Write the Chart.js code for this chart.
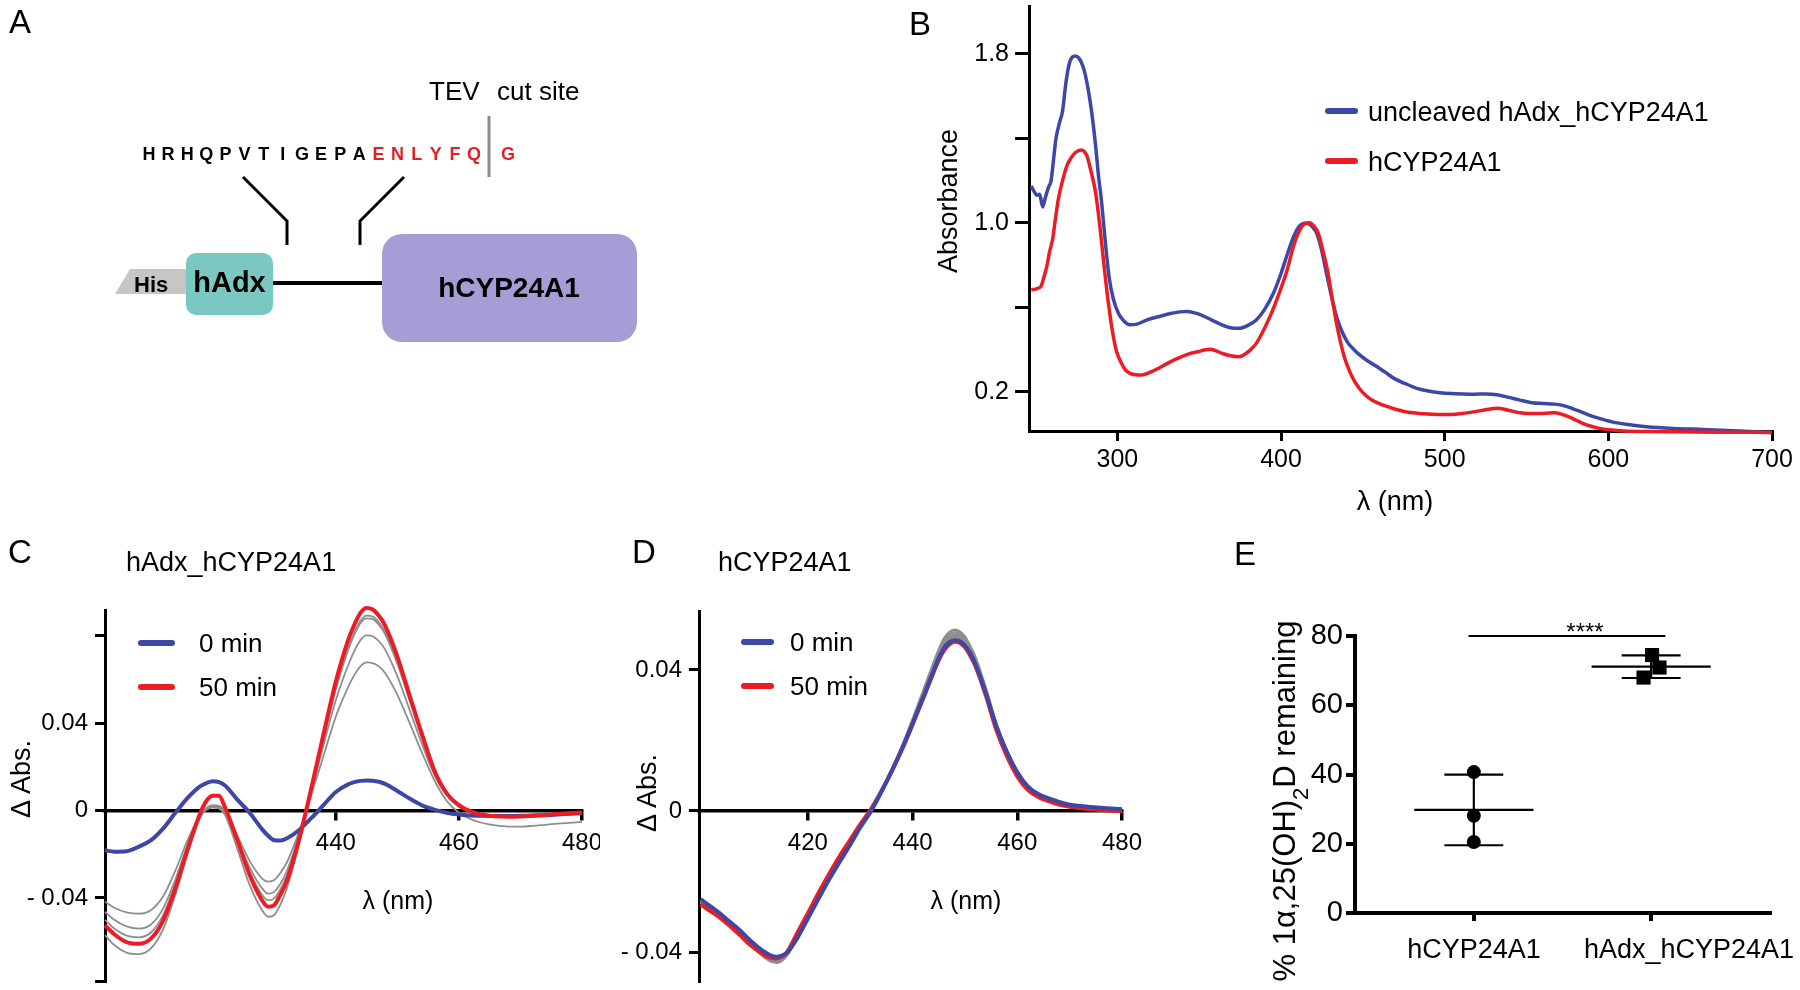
<!DOCTYPE html>
<html>
<head>
<meta charset="utf-8">
<script src="https://cdn.jsdelivr.net/npm/chart.js@4.4.1/dist/chart.umd.min.js"></script>
<style>
html,body{margin:0;padding:0;background:#fff;width:1800px;height:990px;overflow:hidden;}
canvas{position:absolute;}
#overlay{position:absolute;left:0;top:0;pointer-events:none;font-family:'Liberation Sans',Arial,sans-serif;}
</style>
</head>
<body>
<canvas id="cB" width="900" height="520" style="left:900px;top:0px"></canvas>
<canvas id="cC" width="600" height="470" style="left:0px;top:520px"></canvas>
<canvas id="cD" width="560" height="470" style="left:600px;top:520px"></canvas>
<canvas id="cE" width="600" height="470" style="left:1200px;top:520px"></canvas>
<svg id="overlay" width="1800" height="990" xmlns="http://www.w3.org/2000/svg">
  <!-- panel letters -->
  <g font-size="33" fill="#000">
    <text x="9" y="33">A</text>
    <text x="909" y="35">B</text>
    <text x="8" y="563">C</text>
    <text x="632" y="563">D</text>
    <text x="1234" y="565">E</text>
  </g>
  <!-- panel A diagram -->
  <g id="panelA">
    <text x="429" y="100" font-size="26">TEV</text>
    <text x="497" y="100" font-size="26">cut site</text>
    <line x1="489" y1="116" x2="489" y2="177" stroke="#8a8a8a" stroke-width="3"/>
    <g id="seq" font-size="18" font-weight="bold" text-anchor="middle"></g>
    <polyline points="243,177 287,221 287,245" fill="none" stroke="#000" stroke-width="3"/>
    <polyline points="404,177 360,221 360,245" fill="none" stroke="#000" stroke-width="3"/>
    <polygon points="115,294 130,269 190,269 190,294" fill="#c6c6c6"/>
    <text x="134" y="292" font-size="22" font-weight="bold">His</text>
    <line x1="273" y1="283" x2="384" y2="283" stroke="#000" stroke-width="4"/>
    <rect x="186" y="253" width="87" height="62" rx="10" fill="#7bc8c3"/>
    <text x="229.5" y="292" font-size="29" font-weight="bold" text-anchor="middle">hAdx</text>
    <rect x="382" y="234" width="255" height="108" rx="20" fill="#a69dd6"/>
    <text x="509" y="297" font-size="28" font-weight="bold" text-anchor="middle">hCYP24A1</text>
  </g>
  <!-- panel B texts -->
  <g font-size="27">
    <line x1="1328" y1="111" x2="1355" y2="111" stroke="#3c47a6" stroke-width="6" stroke-linecap="round"/>
    <text x="1368" y="121">uncleaved hAdx_hCYP24A1</text>
    <line x1="1328" y1="161" x2="1355" y2="161" stroke="#ec1c24" stroke-width="6" stroke-linecap="round"/>
    <text x="1368" y="171">hCYP24A1</text>
    <text transform="translate(947,201) rotate(-90)" x="0" y="9.7" text-anchor="middle">Absorbance</text>
    <text x="1395" y="510" text-anchor="middle">λ (nm)</text>
  </g>
  <!-- panel C texts -->
  <g font-size="27">
    <text x="126" y="571">hAdx_hCYP24A1</text>
    <text transform="translate(20,779) rotate(-90)" x="0" y="9.7" text-anchor="middle">Δ Abs.</text>
    <text x="398" y="909" text-anchor="middle" font-size="25">λ (nm)</text>
    <line x1="141" y1="643" x2="172" y2="643" stroke="#3c47a6" stroke-width="6" stroke-linecap="round"/>
    <text x="199" y="652" font-size="26">0 min</text>
    <line x1="141" y1="687" x2="172" y2="687" stroke="#ec1c24" stroke-width="6" stroke-linecap="round"/>
    <text x="199" y="696" font-size="26">50 min</text>
  </g>
  <!-- panel D texts -->
  <g font-size="27">
    <text x="718" y="571">hCYP24A1</text>
    <text transform="translate(646,793) rotate(-90)" x="0" y="9.7" text-anchor="middle">Δ Abs.</text>
    <text x="966" y="909" text-anchor="middle" font-size="25">λ (nm)</text>
    <line x1="744" y1="642" x2="771" y2="642" stroke="#3c47a6" stroke-width="6" stroke-linecap="round"/>
    <text x="790" y="651" font-size="26">0 min</text>
    <line x1="744" y1="686" x2="771" y2="686" stroke="#ec1c24" stroke-width="6" stroke-linecap="round"/>
    <text x="790" y="695" font-size="26">50 min</text>
  </g>
  <!-- panel E texts -->
  <g font-size="31">
    <text transform="translate(1284,801) rotate(-90)" x="0" y="11" text-anchor="middle">% 1α,25(OH)<tspan baseline-shift="sub" font-size="22">2</tspan>D remaining</text>
    <text id="eSig" x="1585" y="640" text-anchor="middle" font-size="24"></text>
    <text id="eCat0" x="1474" y="958" text-anchor="middle" font-size="27"></text>
    <text id="eCat1" x="1689" y="958" text-anchor="middle" font-size="27"></text>
    <line x1="1347" y1="913" x2="1357" y2="913" stroke="#000" stroke-width="4"/>
  </g>
</svg>
<script>
// ---------------- DATA ----------------
// Panel B: absorbance spectra
const bBlueLambda = [247.4,249,251,252.5,254.4,256,258,259.5,261,262.5,264.5,266.5,268.5,270.5,272.5,274.4,276.5,279,281.5,284,286.5,288.5,290.2,292.5,295,297.5,300.7,304,307.7,312,318.2,325,332.3,338,342.8,348,353.3,358,363.8,369,374.3,380,384.9,390,395.4,400,404.1,408,411.2,414,416.4,419,421.7,424.5,426.9,430,433.9,437.5,441,444.5,448,453,458.5,464,469,476,483,490,497.1,504,511.1,518,525.1,532,539.1,546,553.2,560,567.2,572,577.7,583,588.2,595,602.2,612,623.3,640,658.3,680,700];
const bBlueAbs = [1.174,1.15,1.13,1.135,1.075,1.12,1.17,1.20,1.30,1.40,1.47,1.53,1.66,1.75,1.785,1.79,1.78,1.74,1.66,1.54,1.38,1.22,1.11,0.92,0.74,0.64,0.57,0.535,0.517,0.52,0.54,0.555,0.57,0.578,0.58,0.572,0.556,0.538,0.517,0.503,0.50,0.515,0.54,0.59,0.667,0.76,0.857,0.94,0.984,0.998,0.997,0.982,0.952,0.88,0.794,0.68,0.556,0.48,0.43,0.40,0.374,0.345,0.319,0.29,0.263,0.238,0.216,0.203,0.195,0.191,0.189,0.188,0.189,0.185,0.173,0.160,0.148,0.144,0.141,0.135,0.121,0.105,0.089,0.072,0.057,0.044,0.034,0.026,0.021,0.014,0.007];
const bRedLambda = [247.4,250,253.4,255,256.9,258.5,260.4,262,263.9,266.5,269.1,271.5,274.4,277.9,281.4,284,286.7,289.5,291.9,294.5,297.2,299.5,302.5,305,307.7,311,314.7,320,325.2,332,339.3,345,349.8,353,356.8,360,363.8,369,374.3,378,381.3,385,388.4,393.5,398.9,403.5,407.6,410.5,412.9,415.2,417.5,420,422.7,425.5,428.7,431.3,433.9,436.5,439.2,442,444.5,448,451.5,456,462,469,476,483,490,497,504.1,511,518.1,525,532.1,539,546.1,551,556.7,562,567.2,571.5,575.9,580,584.7,590,595.2,602,609.3,625,640.8,670,700];
const bRedAbs = [0.683,0.686,0.70,0.74,0.794,0.86,0.921,1.01,1.111,1.20,1.269,1.305,1.333,1.345,1.317,1.24,1.143,0.97,0.794,0.62,0.477,0.39,0.335,0.302,0.287,0.28,0.279,0.292,0.311,0.34,0.366,0.382,0.390,0.397,0.401,0.394,0.382,0.370,0.366,0.378,0.398,0.43,0.477,0.56,0.667,0.77,0.889,0.95,0.984,0.998,1.000,0.985,0.952,0.87,0.762,0.64,0.525,0.43,0.351,0.295,0.255,0.214,0.184,0.158,0.137,0.119,0.105,0.098,0.094,0.092,0.092,0.097,0.105,0.114,0.121,0.112,0.100,0.097,0.097,0.098,0.100,0.093,0.081,0.066,0.049,0.035,0.025,0.018,0.014,0.011,0.010,0.008,0.007];
const bXTicks = [300,400,500,600,700];
const bYTicks = [0.2,0.6,1.0,1.4,1.8];
const bYTickLabels = ['0.2','','1.0','','1.8'];

// Panel C: hAdx_hCYP24A1 difference spectra
const cLambda = [402.5,404,406,408,410,412,414,416,418,419,420,421,422,424,426,428,429,430,431,432,434,436,438,440,442,443,444,445,446,447,448,450,452,454,456,458,460,462,464,466,468,470,472,474,476,478,480];
const c0min = [-0.0182,-0.0188,-0.0186,-0.0165,-0.0135,-0.0080,-0.0008,0.0060,0.0112,0.0126,0.0134,0.0130,0.0115,0.0050,-0.0010,-0.0085,-0.0115,-0.0136,-0.0137,-0.0128,-0.0090,-0.0035,0.0025,0.0085,0.0120,0.0130,0.0136,0.0138,0.0137,0.0132,0.0122,0.0090,0.0055,0.0024,0.0004,-0.0010,-0.0018,-0.0022,-0.0024,-0.0025,-0.0025,-0.0024,-0.0023,-0.0021,-0.0018,-0.0015,-0.0012];
const c10min = [-0.0417,-0.0445,-0.0466,-0.0472,-0.0455,-0.0390,-0.0270,-0.0130,-0.0020,0.0005,0.0015,0.0012,-0.0010,-0.0115,-0.0230,-0.0310,-0.0325,-0.0318,-0.0285,-0.0240,-0.0100,0.0070,0.0250,0.0430,0.0565,0.0620,0.0660,0.0678,0.0675,0.0660,0.0630,0.0530,0.0400,0.0265,0.0140,0.0045,-0.0010,-0.0040,-0.0058,-0.0068,-0.0073,-0.0073,-0.0070,-0.0065,-0.0060,-0.0056,-0.0052];
const c20min = [-0.0463,-0.0500,-0.0530,-0.0540,-0.0520,-0.0445,-0.0310,-0.0150,-0.0020,0.0010,0.0020,0.0018,-0.0005,-0.0130,-0.0260,-0.0355,-0.0380,-0.0372,-0.0335,-0.0280,-0.0115,0.0085,0.0300,0.0505,0.0665,0.0730,0.0780,0.0802,0.0798,0.0775,0.0738,0.0615,0.0460,0.0305,0.0165,0.0070,0.0018,-0.0008,-0.0018,-0.0022,-0.0024,-0.0023,-0.0022,-0.0020,-0.0016,-0.0013,-0.0010];
const c30min = [-0.0500,-0.0540,-0.0572,-0.0580,-0.0557,-0.0475,-0.0330,-0.0160,-0.0020,0.0012,0.0025,0.0022,-0.0003,-0.0140,-0.0280,-0.0385,-0.0410,-0.0402,-0.0360,-0.0300,-0.0120,0.0095,0.0330,0.0555,0.0735,0.0805,0.0858,0.0880,0.0876,0.0850,0.0808,0.0672,0.0502,0.0332,0.0178,0.0075,0.0020,-0.0008,-0.0020,-0.0025,-0.0026,-0.0025,-0.0023,-0.0020,-0.0016,-0.0012,-0.0009];
const c40min = [-0.0570,-0.0615,-0.0650,-0.0657,-0.0630,-0.0540,-0.0380,-0.0190,-0.0030,0.0005,0.0015,0.0010,-0.0020,-0.0175,-0.0340,-0.0455,-0.0486,-0.0478,-0.0430,-0.0360,-0.0160,0.0075,0.0325,0.0560,0.0745,0.0815,0.0868,0.0892,0.0888,0.0862,0.0820,0.0685,0.0515,0.0342,0.0185,0.0080,0.0022,-0.0006,-0.0018,-0.0023,-0.0025,-0.0024,-0.0022,-0.0019,-0.0015,-0.0012,-0.0009];
const c50min = [-0.0526,-0.0566,-0.0602,-0.0610,-0.0585,-0.0500,-0.0350,-0.0170,-0.0010,0.0045,0.0068,0.0068,0.0015,-0.0135,-0.0295,-0.0410,-0.0440,-0.0432,-0.0385,-0.0325,-0.0135,0.0100,0.0350,0.0590,0.0780,0.0850,0.0905,0.0927,0.0920,0.0892,0.0848,0.0705,0.0526,0.0350,0.0185,0.0080,0.0025,-0.0005,-0.0020,-0.0026,-0.0028,-0.0027,-0.0024,-0.0020,-0.0016,-0.0012,-0.0009];
const cXTicks = [440,460,480];
const cYTicks = [-0.078,-0.04,0,0.04,0.08];
const cYTickLabels = ['','- 0.04','0','0.04',''];

// Panel D: hCYP24A1 difference spectra
const dLambda = [399.5,401,403,405,407,409,411,412,413,414,415,416,418,420,422,424,426,428,430,432,434,436,438,440,442,444,445,446,447,448,449,450,451,452,454,456,458,460,462,464,466,468,470,472,474,476,478,480];
const d0min = [-0.0250,-0.0266,-0.0288,-0.0313,-0.0338,-0.0367,-0.0392,-0.0402,-0.0410,-0.0413,-0.0410,-0.0402,-0.0360,-0.0305,-0.0250,-0.0196,-0.0146,-0.0098,-0.0047,-0.0002,0.0053,0.0112,0.0177,0.0248,0.0322,0.0397,0.0434,0.0462,0.0478,0.0485,0.0481,0.0469,0.0447,0.0417,0.0334,0.0240,0.0168,0.0110,0.0070,0.0048,0.0036,0.0026,0.0018,0.0014,0.0011,0.0009,0.0007,0.0005];
const d10min = [-0.0255,-0.0272,-0.0294,-0.0320,-0.0347,-0.0378,-0.0406,-0.0418,-0.0427,-0.0430,-0.0425,-0.0410,-0.0358,-0.0300,-0.0243,-0.0188,-0.0138,-0.0090,-0.0042,0.0002,0.0056,0.0118,0.0185,0.0260,0.0340,0.0420,0.0458,0.0489,0.0507,0.0514,0.0509,0.0494,0.0468,0.0436,0.0348,0.0248,0.0172,0.0112,0.0071,0.0048,0.0035,0.0025,0.0017,0.0012,0.0009,0.0007,0.0005,0.0003];
const d20min = [-0.0256,-0.0272,-0.0293,-0.0318,-0.0345,-0.0376,-0.0403,-0.0415,-0.0424,-0.0427,-0.0422,-0.0408,-0.0356,-0.0299,-0.0242,-0.0187,-0.0137,-0.0089,-0.0042,0.0002,0.0055,0.0116,0.0182,0.0256,0.0335,0.0414,0.0451,0.0482,0.0500,0.0507,0.0502,0.0488,0.0462,0.0431,0.0344,0.0246,0.0170,0.0111,0.0070,0.0047,0.0034,0.0024,0.0016,0.0011,0.0008,0.0006,0.0004,0.0002];
const d30min = [-0.0258,-0.0274,-0.0295,-0.0319,-0.0345,-0.0375,-0.0401,-0.0413,-0.0421,-0.0424,-0.0419,-0.0405,-0.0354,-0.0298,-0.0241,-0.0186,-0.0136,-0.0088,-0.0041,0.0002,0.0054,0.0114,0.0179,0.0252,0.0330,0.0408,0.0445,0.0475,0.0493,0.0500,0.0495,0.0481,0.0456,0.0425,0.0340,0.0244,0.0169,0.0110,0.0070,0.0047,0.0034,0.0024,0.0016,0.0011,0.0008,0.0006,0.0004,0.0002];
const d40min = [-0.0260,-0.0276,-0.0297,-0.0321,-0.0346,-0.0375,-0.0400,-0.0411,-0.0419,-0.0421,-0.0417,-0.0403,-0.0352,-0.0297,-0.0240,-0.0185,-0.0135,-0.0088,-0.0041,0.0002,0.0053,0.0113,0.0178,0.0250,0.0326,0.0403,0.0439,0.0469,0.0487,0.0494,0.0489,0.0475,0.0451,0.0421,0.0337,0.0242,0.0168,0.0110,0.0069,0.0047,0.0034,0.0024,0.0016,0.0011,0.0008,0.0006,0.0004,0.0002];
const d50min = [-0.0265,-0.0280,-0.0300,-0.0325,-0.0352,-0.0380,-0.0402,-0.0411,-0.0417,-0.0418,-0.0413,-0.0400,-0.0345,-0.0290,-0.0233,-0.0180,-0.0130,-0.0084,-0.0038,0.0004,0.0055,0.0112,0.0175,0.0245,0.0318,0.0393,0.0428,0.0455,0.0472,0.0480,0.0477,0.0464,0.0441,0.0411,0.0327,0.0230,0.0156,0.0098,0.0060,0.0040,0.0028,0.0018,0.0012,0.0008,0.0005,0.0003,0.0001,0.0000];
const dXTicks = [420,440,460,480];
const dYTicks = [-0.04,0,0.04];
const dYTickLabels = ['- 0.04','0','0.04'];

// Panel E: % 1a,25(OH)2D remaining
const eCategories = ['hCYP24A1','hAdx_hCYP24A1'];
const eCypValues = [40.7, 28.1, 20.5];
const eCypX = [0, 0, 0];
const eAdxValues = [74.5, 70.9, 68.0];
const eAdxX = [1.005, 1.047, 0.957];
const eYTicks = [0,20,40,60,80];
const eSigLabel = '****';

// ---------------- PANEL A sequence / E labels ----------------
const seqLetters = ['H','R','H','Q','P','V','T','I','G','E','P','A','E','N','L','Y','F','Q','G'];
const seqRedFrom = 12;
(function(){
  const g = document.getElementById('seq');
  const ns = 'http://www.w3.org/2000/svg';
  seqLetters.forEach((ch,i)=>{
    const t = document.createElementNS(ns,'text');
    const x = i < 18 ? 149 + 19.12*i : 508;
    t.setAttribute('x', x);
    t.setAttribute('y', 160);
    t.setAttribute('fill', i >= seqRedFrom ? '#e31e24' : '#000');
    t.textContent = ch;
    g.appendChild(t);
  });
  document.getElementById('eSig').textContent = eSigLabel;
  document.getElementById('eCat0').textContent = eCategories[0];
  document.getElementById('eCat1').textContent = eCategories[1];
})();

// ---------------- CHARTS ----------------
const FONT = "'Liberation Sans', Arial, sans-serif";
Chart.defaults.font.family = FONT;
Chart.defaults.color = '#000';
const BLUE = '#3c47a6', RED = '#ec1c24', GRAY = '#8e8e8e';

function series(xs, ys, color, width){
  return {data: xs.map((x,i)=>({x:x, y:ys[i]})), showLine:true, borderColor:color, backgroundColor:color,
          borderWidth:width, pointRadius:0, pointHoverRadius:0, cubicInterpolationMode:'monotone', fill:false, clip:false};
}
function noPad(s){ s.paddingTop=0; s.paddingBottom=0; s.paddingLeft=0; s.paddingRight=0; }
function axis(o){
  const cfg = {
    type:'linear', min:o.min, max:o.max,
    afterBuildTicks: s => { s.ticks = o.ticks.map(v=>({value:v})); },
    afterFit: s => { if (o.isY) s.width = o.fixed; else s.height = o.fixed; noPad(s); },
    grid:{display:true, drawOnChartArea:false, drawTicks:true, tickLength:o.tickLen, tickWidth:o.w, tickColor:'#000', color:'#000', lineWidth:o.w},
    border:{display:true, color:'#000', width:o.w},
    ticks:{autoSkip:false, maxRotation:0, minRotation:0, padding:o.pad, color:'#000', font:{size:o.fs, family:FONT},
           callback:(v,i)=> o.labels ? o.labels[i] : String(v)}
  };
  if (o.position) cfg.position = o.position;
  return cfg;
}
function opts(padding, scales){
  return {responsive:false, maintainAspectRatio:false, animation:false, devicePixelRatio:1, events:[],
          layout:{padding:padding}, plugins:{legend:{display:false}, tooltip:{enabled:false}}, scales:scales};
}

// Panel B
new Chart(document.getElementById('cB'), {
  type:'scatter',
  data:{datasets:[
    series(bRedLambda, bRedAbs, RED, 3.5),
    series(bBlueLambda, bBlueAbs, BLUE, 3.5)
  ]},
  options: opts({left:49, top:6, right:28, bottom:29}, {
    x: axis({min:246, max:700, ticks:bXTicks, fixed:60, isY:false, tickLen:10, w:3, pad:4, fs:25}),
    y: axis({min:0.0137, max:2.027, ticks:bYTicks, labels:bYTickLabels, fixed:80, isY:true, tickLen:14, w:3, pad:6, fs:25})
  })
});

// Panel C
new Chart(document.getElementById('cC'), {
  type:'scatter',
  data:{datasets:[
    series(cLambda, c50min, RED, 4),
    series(cLambda, c0min, BLUE, 4),
    series(cLambda, c10min, GRAY, 1.8),
    series(cLambda, c20min, GRAY, 1.8),
    series(cLambda, c30min, GRAY, 1.8),
    series(cLambda, c40min, GRAY, 1.8)
  ]},
  options: opts({left:15, top:90, right:18, bottom:9}, {
    x: axis({min:402.5, max:480, ticks:cXTicks, fixed:0, isY:false, tickLen:8, w:3.5, pad:10, fs:24, position:{y:0}}),
    y: axis({min:-0.078, max:0.0918, ticks:cYTicks, labels:cYTickLabels, fixed:90, isY:true, tickLen:10, w:3, pad:7, fs:24})
  })
});

// Panel D
new Chart(document.getElementById('cD'), {
  type:'scatter',
  data:{datasets:[
    series(dLambda, d0min, BLUE, 4),
    series(dLambda, d50min, RED, 4),
    series(dLambda, d10min, GRAY, 2.5),
    series(dLambda, d20min, GRAY, 2.5),
    series(dLambda, d30min, GRAY, 2.5),
    series(dLambda, d40min, GRAY, 2.5)
  ]},
  options: opts({left:19, top:91.7, right:38, bottom:8.3}, {
    x: axis({min:399.2, max:480, ticks:dXTicks, fixed:0, isY:false, tickLen:8, w:3.5, pad:10, fs:24, position:{y:0}}),
    y: axis({min:-0.0484, max:0.0565, ticks:dYTicks, labels:dYTickLabels, fixed:80, isY:true, tickLen:10, w:3, pad:7, fs:24})
  })
});

// Panel E
function meanSd(a){ const m = a.reduce((s,v)=>s+v,0)/a.length; const sd = Math.sqrt(a.reduce((s,v)=>s+(v-m)*(v-m),0)/(a.length-1)); return [m,sd]; }
function summaryDatasets(cx, values){
  const [m, sd] = meanSd(values);
  const st = {showLine:true, borderColor:'#000', borderWidth:2.2, pointRadius:0, fill:false, clip:false};
  return [
    Object.assign({data:[{x:cx-0.336,y:m},{x:cx+0.336,y:m}]}, st),
    Object.assign({data:[{x:cx,y:m-sd},{x:cx,y:m+sd}]}, st),
    Object.assign({data:[{x:cx-0.166,y:m+sd},{x:cx+0.166,y:m+sd}]}, st),
    Object.assign({data:[{x:cx-0.166,y:m-sd},{x:cx+0.166,y:m-sd}]}, st)
  ];
}
new Chart(document.getElementById('cE'), {
  type:'scatter',
  data:{datasets:[
    {data: eCypValues.map((v,i)=>({x:eCypX[i], y:v})), pointStyle:'circle', pointRadius:7, backgroundColor:'#000', borderColor:'#000', borderWidth:0, clip:false},
    {data: eAdxValues.map((v,i)=>({x:eAdxX[i], y:v})), pointStyle:'rect', pointRadius:10, backgroundColor:'#000', borderColor:'#000', borderWidth:0, clip:false},
    ...summaryDatasets(0, eCypValues),
    ...summaryDatasets(1, eAdxValues),
    {data:[{x:-0.03,y:80},{x:1.08,y:80}], showLine:true, borderColor:'#000', borderWidth:2.2, pointRadius:0, clip:false}
  ]},
  options: opts({left:75, top:116, right:30, bottom:7}, {
    x: axis({min:-0.67, max:1.67, ticks:[0,1], labels:['',''], fixed:70, isY:false, tickLen:8, w:4, pad:15, fs:27}),
    y: axis({min:0, max:80, ticks:eYTicks, fixed:80, isY:true, tickLen:9, w:4, pad:3, fs:29})
  })
});
</script>
</body>
</html>
